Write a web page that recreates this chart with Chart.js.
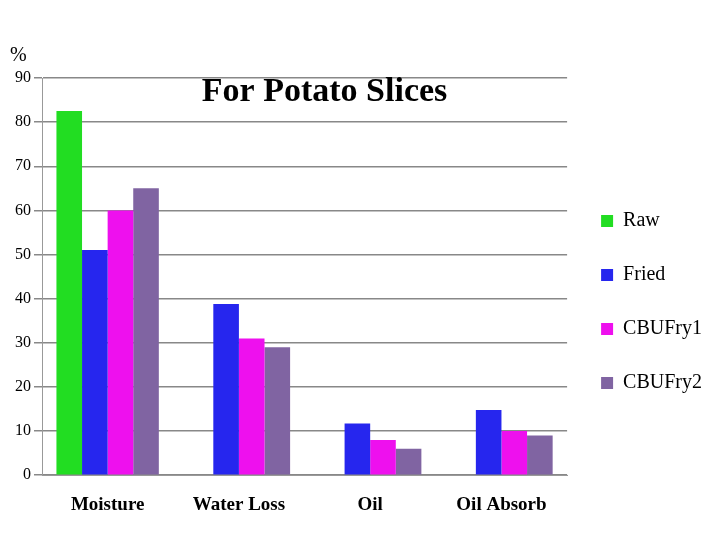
<!DOCTYPE html>
<html>
<head>
<meta charset="utf-8">
<script src="https://cdn.jsdelivr.net/npm/chart.js@4.4.1/dist/chart.umd.min.js"></script>
<style>
  body { margin: 0; background: #fff; }
  #wrap { width: 720px; height: 540px; }
</style>
</head>
<body>
<div id="wrap"><canvas id="c"></canvas></div>
<script>
// ===== DATA =====
const categories = ['Moisture', 'Water Loss', 'Oil', 'Oil Absorb'];
const rawValues = [82.5, 0, 0, 0];
const friedValues = [51, 38.8, 11.7, 14.8];
const cbu1Values = [60, 31, 8, 10];
const cbu2Values = [65, 29, 6, 9];
const yTicks = [0, 10, 20, 30, 40, 50, 60, 70, 80, 90];

const serif = '"Liberation Serif", "Times New Roman", serif';

const overlayText = {
  id: 'overlayText',
  afterDraw(chart) {
    const ctx = chart.ctx;
    const area = chart.chartArea;
    ctx.save();
    ctx.fillStyle = '#000';
    ctx.font = 'bold 34px ' + serif;
    ctx.textAlign = 'center';
    ctx.textBaseline = 'middle';
    ctx.fillText('For Potato Slices', (area.left + area.right) / 2 + 20, 92);
    ctx.font = '20px ' + serif;
    ctx.textAlign = 'left';
    ctx.fillText('%', 10, 56);
    ctx.restore();
  }
};

new Chart(document.getElementById('c'), {
  type: 'bar',
  data: {
    labels: categories,
    datasets: [
      { label: 'Raw', data: rawValues, backgroundColor: '#22dd22' },
      { label: 'Fried', data: friedValues, backgroundColor: '#2626ee' },
      { label: 'CBUFry1', data: cbu1Values, backgroundColor: '#ee10ee' },
      { label: 'CBUFry2', data: cbu2Values, backgroundColor: '#8064a2' }
    ]
  },
  options: {
    responsive: true,
    maintainAspectRatio: false,
    animation: false,
    layout: { padding: { top: 78, left: 12, right: 8, bottom: 14 } },
    datasets: { bar: { categoryPercentage: 0.78, barPercentage: 1 } },
    scales: {
      x: {
        grid: { display: false },
        border: { color: '#999' },
        ticks: { color: '#000', padding: 10, font: { family: serif, size: 19, weight: 'bold' } }
      },
      y: {
        min: 0, max: 90,
        afterBuildTicks: axis => { axis.ticks = yTicks.map(v => ({ value: v })); },
        grid: { color: '#888', lineWidth: 1.5 },
        border: { color: '#999' },
        ticks: { color: '#000', font: { family: serif, size: 16 } }
      }
    },
    plugins: {
      title: { display: false },
      tooltip: { enabled: false },
      legend: {
        position: 'right',
        labels: {
          boxWidth: 12, boxHeight: 12, padding: 34,
          color: '#000', font: { family: serif, size: 20 }
        }
      }
    }
  },
  plugins: [overlayText]
});
</script>
</body>
</html>
